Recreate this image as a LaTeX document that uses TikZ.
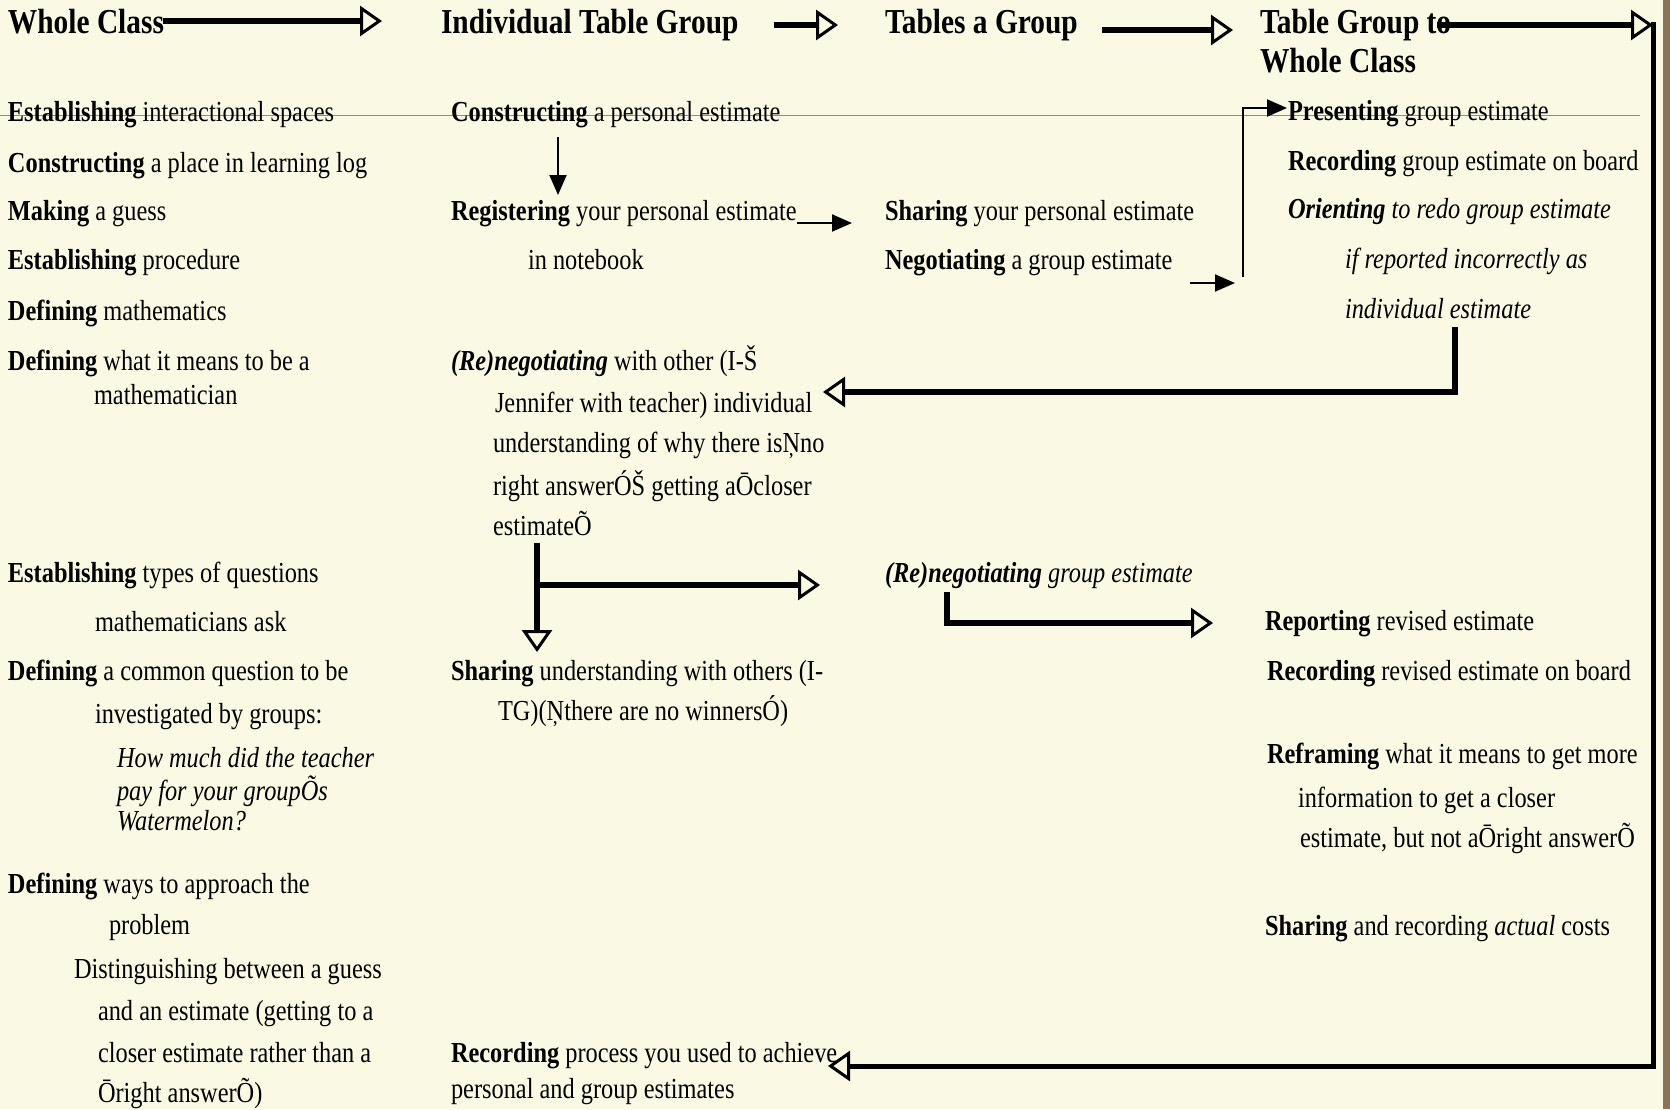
\documentclass[tikz,border=0pt]{standalone}
\usepackage{fontspec}
\setmainfont{Liberation Serif}[FakeStretch=0.84]
\usetikzlibrary{arrows.meta}
\definecolor{bgc}{RGB}{250,250,228}
\definecolor{stripc}{RGB}{139,115,85}
\definecolor{rulec}{RGB}{165,135,105}
\tikzset{
  txt/.style={anchor=base west, inner sep=0pt, outer sep=0pt, font=\fontsize{29}{34}\selectfont},
  hd/.style={anchor=base west, inner sep=0pt, outer sep=0pt, font=\fontsize{35}{40}\selectfont\bfseries},
  bold arrow/.style={line width=5.5pt, -{Triangle[length=22pt,width=30pt,line width=3pt,fill=bgc]}},
  thin arrow/.style={line width=2pt, -{Triangle[length=20pt,width=17pt]}},
  bold line/.style={line width=5.5pt},
}
\begin{document}
\begin{tikzpicture}[x=1pt,y=-1pt]
\useasboundingbox (0,0) rectangle (1670,1109);
\fill[bgc] (0,0) rectangle (1670,1109);
\fill[stripc] (1663,0) rectangle (1670,1109);
\draw[rulec, line width=1pt] (0,115) -- (1640,115);

% Column 1
\node[hd] (h1) at (8,33) {Whole Class};
\node[txt] (a1) at (8,121) {\textbf{Establishing} interactional spaces};
\node[txt] (a2) at (8,172) {\textbf{Constructing} a place in learning log};
\node[txt] (a3) at (8,220) {\textbf{Making} a guess};
\node[txt] (a4) at (8,269) {\textbf{Establishing} procedure};
\node[txt] (a5) at (8,320) {\textbf{Defining} mathematics};
\node[txt] (a6) at (8,370) {\textbf{Defining} what it means to be a};
\node[txt] (a6b) at (94,404) {mathematician};
\node[txt] (a7) at (8,582) {\textbf{Establishing} types of questions};
\node[txt] (a7b) at (95,631) {mathematicians ask};
\node[txt] (a8) at (8,680) {\textbf{Defining} a common question to be};
\node[txt] (a8b) at (95,723) {investigated by groups:};
\node[txt] (a8c) at (117,767) {\textit{How much did the teacher}};
\node[txt] (a8d) at (117,800) {\textit{pay for your groupÕs}};
\node[txt] (a8e) at (117,830) {\textit{Watermelon?}};
\node[txt] (a9) at (8,893) {\textbf{Defining} ways to approach the};
\node[txt] (a9b) at (109,934) {problem};
\node[txt] (a9c) at (74,978) {Distinguishing between a guess};
\node[txt] (a9d) at (98,1020) {and an estimate (getting to a};
\node[txt] (a9e) at (98,1062) {closer estimate rather than a};
\node[txt] (a9f) at (98,1102) {Ōright answerÕ)};

% Column 2
\node[hd] (h2) at (441,33) {Individual Table Group};
\node[txt] (b1) at (451,121) {\textbf{Constructing} a personal estimate};
\node[txt] (b2) at (451,220) {\textbf{Registering} your personal estimate};
\node[txt] (b2b) at (528,269) {in notebook};
\node[txt] (b3) at (451,370) {\textbf{\textit{(Re)negotiating}} with other (I-Š};
\node[txt] (b3b) at (495,412) {Jennifer with teacher) individual};
\node[txt] (b3c) at (493,452) {understanding of why there isŅno};
\node[txt] (b3d) at (493,495) {right answerÓŠ getting aŌcloser};
\node[txt] (b3e) at (493,535) {estimateÕ};
\node[txt] (b4) at (451,680) {\textbf{Sharing} understanding with others (I-};
\node[txt] (b4b) at (498,720) {TG)(Ņthere are no winnersÓ)};
\node[txt] (b5) at (451,1062) {\textbf{Recording} process you used to achieve};
\node[txt] (b5b) at (451,1098) {personal and group estimates};

% Column 3
\node[hd] (h3) at (885,33) {Tables a Group};
\node[txt] (c1) at (885,220) {\textbf{Sharing} your personal estimate};
\node[txt] (c2) at (885,269) {\textbf{Negotiating} a group estimate};
\node[txt] (c3) at (885,582) {\textit{\textbf{(Re)negotiating} group estimate}};

% Column 4
\node[hd] (h4) at (1260,33) {Table Group to};
\node[hd] (h4b) at (1260,72) {Whole Class};
\node[txt] (d1) at (1288,120) {\textbf{Presenting} group estimate};
\node[txt] (d2) at (1288,170) {\textbf{Recording} group estimate on board};
\node[txt] (d3) at (1288,218) {\textit{\textbf{Orienting} to redo group estimate}};
\node[txt] (d3b) at (1345,268) {\textit{if reported incorrectly as}};
\node[txt] (d3c) at (1345,318) {\textit{individual estimate}};
\node[txt] (d4) at (1265,630) {\textbf{Reporting} revised estimate};
\node[txt] (d5) at (1267,680) {\textbf{Recording} revised estimate on board};
\node[txt] (d6) at (1267,763) {\textbf{Reframing} what it means to get more};
\node[txt] (d6b) at (1298,807) {information to get a closer};
\node[txt] (d6c) at (1300,847) {estimate, but not aŌright answerÕ};
\node[txt] (d7) at (1265,935) {\textbf{Sharing} and recording \textit{actual} costs};

% Coordinates
\coordinate (w1) at (163,21);   \coordinate (w2) at (382,21);
\coordinate (i1) at (774,25);   \coordinate (i2) at (838,25);
\coordinate (t1) at (1102,30);  \coordinate (t2) at (1233,30);
\coordinate (g1) at (1437,25);  \coordinate (g2) at (1653,25);
\coordinate (f1) at (1653,22);  \coordinate (f2) at (1653,1066); \coordinate (f3) at (828,1066);
\coordinate (r1) at (1455,327); \coordinate (r2) at (1455,392);  \coordinate (r3) at (823,392);
\coordinate (n1) at (537,543);  \coordinate (n2) at (537,652);
\coordinate (n3) at (537,585);  \coordinate (n4) at (820,585);
\coordinate (q1) at (947,592);  \coordinate (q2) at (947,623);   \coordinate (q3) at (1213,623);
\coordinate (s1) at (558,137);  \coordinate (s2) at (558,195);
\coordinate (s3) at (797,223);  \coordinate (s4) at (852,223);
\coordinate (s5) at (1190,283); \coordinate (s6) at (1235,283);
\coordinate (s7) at (1243,277); \coordinate (s8) at (1287,108);

% Bold arrows
\draw[bold arrow] (w1) -- (w2);
\draw[bold arrow] (i1) -- (i2);
\draw[bold arrow] (t1) -- (t2);
\draw[bold arrow] (g1) -- (g2);
\draw[bold arrow, line width=5pt] (f1) -- (f2) -- (f3);
\draw[bold arrow] (r1) -- (r2) -- (r3);
\draw[bold arrow] (n1) -- (n2);
\draw[bold arrow] (n3) -- (n4);
\draw[bold arrow] (q1) -- (q2) -- (q3);

% Thin arrows
\draw[thin arrow] (s1) -- (s2);
\draw[thin arrow] (s3) -- (s4);
\draw[thin arrow] (s5) -- (s6);
\draw[thin arrow] (s7) |- (s8);
\end{tikzpicture}
\end{document}
